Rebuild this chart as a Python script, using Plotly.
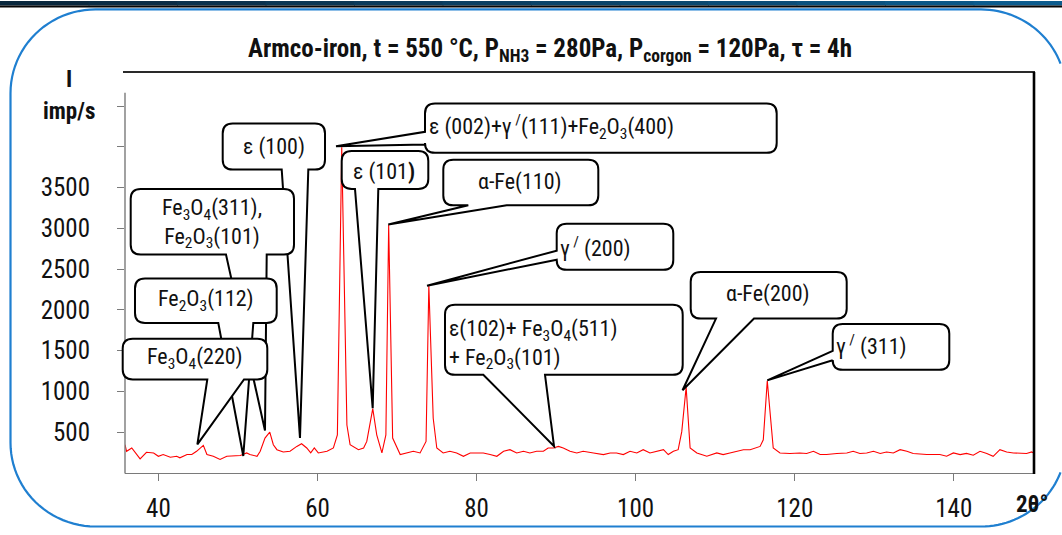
import math
import plotly.graph_objects as go

# ---------------- data ----------------
two_theta = [35.8, 36.0, 36.65, 37.7, 38.5, 39.4, 40.0, 40.6, 41.5, 42.3, 42.7, 43.6, 44.2, 44.8, 45.65, 46.1,
             46.9, 47.75, 48.6, 49.4, 50.3, 51.1, 51.5, 52.4, 52.8, 53.4, 54.0, 54.45, 54.9, 55.7, 56.55, 57.4,
             58.0, 58.65, 59.15, 59.6, 60.1, 61.2, 62.0, 62.5, 63.05, 63.7, 64.1, 65.15, 65.8, 66.2, 66.95,
             67.45, 68.1, 68.6, 68.95, 69.45, 70.4, 72.05, 72.9, 73.65, 74.0, 74.55, 75.0, 75.8, 76.65, 77.5,
             78.35, 79.2, 80.0, 80.85, 81.7, 82.55, 83.4, 84.2, 85.05, 85.9, 86.7, 87.55, 88.4, 89.0, 89.65,
             90.3, 90.9, 91.75, 92.6, 93.4, 94.7, 95.95, 96.8, 97.6, 98.45, 99.3, 100.15, 100.95, 101.8, 103.5,
             104.1, 104.75, 105.35, 105.8, 106.35, 106.85, 107.7, 108.95, 110.2, 111.0, 111.85, 113.55, 114.4,
             115.65, 116.05, 116.55, 117.3, 118.15, 119.4, 120.65, 121.5, 122.35, 123.2, 124.0, 125.3, 126.55,
             127.35, 128.2, 129.05, 129.9, 130.75, 131.55, 132.4, 133.25, 134.1, 134.9, 136.6, 138.25, 139.1,
             139.95, 140.8, 141.6, 142.45, 143.3, 144.15, 144.95, 145.8, 146.65, 147.5, 148.3, 149.15, 149.8,
             150.45]
intensity = [347, 266, 307, 173, 254, 246, 205, 226, 194, 205, 186, 226, 226, 266, 339, 226,
             205, 166, 205, 205, 214, 246, 226, 205, 266, 428, 500, 347, 286, 258, 266, 326,
             359, 307, 246, 307, 246, 266, 307, 468, 3995, 588, 347, 286, 307, 387, 790,
             468, 246, 468, 3045, 428, 226, 266, 246, 387, 2300, 672, 307, 246, 266, 246,
             205, 246, 246, 246, 226, 205, 266, 286, 246, 266, 246, 266, 266, 307, 307,
             326, 307, 266, 246, 266, 246, 226, 246, 246, 226, 266, 246, 286, 246, 286,
             226, 266, 286, 507, 1051, 307, 246, 205, 246, 226, 246, 286, 286,
             326, 407, 1132, 307, 246, 240, 246, 240, 266, 226, 226, 240, 246,
             266, 240, 246, 266, 240, 258, 246, 286, 266, 240, 226, 226, 205,
             246, 226, 240, 218, 266, 240, 205, 286, 258, 246, 240, 240, 258,
             226]

x_ticks = [40, 60, 80, 100, 120, 140]
y_ticks = [500, 1000, 1500, 2000, 2500, 3000, 3500, 4000, 4500]
y_ticktext = ["500", "1000", "1500", "2000", "2500", "3000", "3500", "", ""]

title_text = ("<b>Armco-iron, t = 550 °C, P<sub>NH3</sub> = 280Pa, "
              "P<sub>corgon</sub> = 120Pa, τ = 4h</b>")

# callout labels and the (2θ, I) point each one points to
labels = [
    "ε (100)",
    "Fe<sub>3</sub>O<sub>4</sub>(311),<br>Fe<sub>2</sub>O<sub>3</sub>(101)",
    "Fe<sub>2</sub>O<sub>3</sub>(112)",
    "Fe<sub>3</sub>O<sub>4</sub>(220)",
    "ε (002)+γ<sup> /</sup>(111)+Fe<sub>2</sub>O<sub>3</sub>(400)",
    "ε (101<b>)</b>",
    "α-Fe(110)",
    "γ<sup> /</sup> (200)",
    "ε(102)+ Fe<sub>3</sub>O<sub>4</sub>(511)<br>+ Fe<sub>2</sub>O<sub>3</sub>(101)",
    "α-Fe(200)",
    "γ<sup> /</sup> (311)",
]
label_2theta = [57.8, 53.4, 50.67, 44.9, 62.33, 66.94, 68.9, 73.77, 89.74, 105.9, 116.55]
label_int = [431, 520, 209, 350, 4007, 794, 3048, 2296, 330, 1015, 1136]

# ---------------- geometry (pixels) ----------------
W, H = 1062, 535
L, R, T, B = 125, 1033, 72, 479
PW, PH = R - L, B - T
X0, X1 = 35.8, 149.96
Y0, Y1 = 0, 4917

def PX(px):
    return (px - L) / PW

def PY(py):
    return (B - py) / PH

def data_px(x, y):
    return L + (x - X0) / (X1 - X0) * PW, B - (y - Y0) / (Y1 - Y0) * PH

# box (x0, y0, x1, y1), wedge side, wedge base (a, b), text anchor info
boxes = [
    ((222.7, 124.3, 325, 171), "bottom", (281.7, 308.3), (273.8, 148, "center")),
    ((130.7, 190.7, 294, 257.3), "bottom", (226, 266.7), (212, 226, "center")),
    ((135, 281.7, 276.7, 326.7), "bottom", (218.3, 253.3), (206, 304, "center")),
    ((122.7, 342.7, 267.3, 384), "bottom", (207.3, 244), (195, 363, "center")),
    ((425, 104, 776.7, 154), "left", (132.7, 145.5), (427, 128, "left")),
    ((341.7, 152.3, 428.3, 190.7), "bottom", (355, 378.3), (384, 173, "center")),
    ((443.3, 161, 598.3, 207.3), "bottom", (468.3, 506.7), (520, 184, "center")),
    ((556.7, 226, 673.3, 272.7), "left", (253.3, 262.5), (558, 250, "left")),
    ((445, 308.3, 682.7, 379.3), "bottom", (483.3, 545), (447, 349, "left")),
    ((690.7, 275, 846.7, 322.3), "bottom", (716, 754), (768, 297, "center")),
    ((832.7, 327.7, 949.3, 374.3), "left", (355, 364.5), (834, 350, "left")),
]

def fmt(px, py):
    return f"{PX(px):.5f},{PY(py):.5f}"

def callout_path(box, side, base, tip, r=10):
    x0, y0, x1, y1 = box
    tx, ty = tip
    p = [f"M{fmt(x0 + r, y0)}", f"L{fmt(x1 - r, y0)}", f"Q{fmt(x1, y0)} {fmt(x1, y0 + r)}",
         f"L{fmt(x1, y1 - r)}", f"Q{fmt(x1, y1)} {fmt(x1 - r, y1)}"]
    if side == "bottom":
        a, b = base
        p += [f"L{fmt(b, y1)}", f"L{fmt(tx, ty)}", f"L{fmt(a, y1)}"]
    p += [f"L{fmt(x0 + r, y1)}", f"Q{fmt(x0, y1)} {fmt(x0, y1 - r)}"]
    if side == "left":
        a, b = base
        p += [f"L{fmt(x0, b)}", f"L{fmt(tx, ty)}", f"L{fmt(x0, a)}"]
    p += [f"L{fmt(x0, y0 + r)}", f"Q{fmt(x0, y0)} {fmt(x0 + r, y0)}", "Z"]
    return " ".join(p)

FONT = ("Roboto Condensed, Open Sans Condensed, Liberation Sans Narrow, Arial Narrow, "
        "DejaVu Sans Condensed, sans-serif")

fig = go.Figure()
fig.add_trace(go.Scatter(x=two_theta, y=intensity, mode="lines",
                         line=dict(color="#ff0000", width=1.1), hoverinfo="skip",
                         showlegend=False))

shapes = []
# top bar gradient
n = 12
c0 = (10, 40, 62)
c1 = (12, 92, 142)
for i in range(n):
    t = i / (n - 1)
    col = "rgb(%d,%d,%d)" % tuple(int(c0[k] + (c1[k] - c0[k]) * t) for k in range(3))
    shapes.append(dict(type="rect", xref="paper", yref="paper",
                       x0=PX(i * W / n), x1=PX(min(W, (i + 1) * W / n + 1)), y0=PY(4.5), y1=PY(0),
                       fillcolor=col, line=dict(width=0), layer="above"))
shapes.append(dict(type="rect", xref="paper", yref="paper", x0=PX(0), x1=PX(W), y0=PY(6.5), y1=PY(4.5),
                   fillcolor="#050505", line=dict(width=0), layer="above"))

# blue rounded frame (open path kept inside the page; right edge lies just off-page)
fx0, fy0, fx1, fy1, fr = 10.5, 8.5, 1066, 533.3, 85
cx_r = fx1 - fr
def arc_pts(cx, cy, a0, a1, steps=24):
    return [(cx + fr * math.cos(math.radians(a0 + (a1 - a0) * s / steps)),
             cy + fr * math.sin(math.radians(a0 + (a1 - a0) * s / steps))) for s in range(steps + 1)]
pts = []
lim = W - 1.5
a_tr = math.degrees(math.acos((lim - cx_r) / fr))
pts += arc_pts(cx_r, fy0 + fr, -a_tr, -90)
pts += arc_pts(fx0 + fr, fy0 + fr, -90, -180)
pts += arc_pts(fx0 + fr, fy1 - fr, 180, 90)
pts += arc_pts(cx_r, fy1 - fr, 90, a_tr)
frame = "M" + " L".join(fmt(x, y) for x, y in pts)
shapes.append(dict(type="path", xref="paper", yref="paper", path=frame,
                   line=dict(color="#1f7fd0", width=2.2), layer="above"))

# plot frame lines
shapes.append(dict(type="line", xref="paper", yref="paper", x0=PX(125), x1=PX(125), y0=PY(93), y1=PY(479.5),
                   line=dict(color="#7a7a7a", width=1.4), layer="above"))
shapes.append(dict(type="line", xref="paper", yref="paper", x0=PX(123), x1=PX(1035), y0=PY(72), y1=PY(72),
                   line=dict(color="#2a2a2a", width=2), layer="above"))
shapes.append(dict(type="line", xref="paper", yref="paper", x0=PX(1034), x1=PX(1034), y0=PY(72), y1=PY(480),
                   line=dict(color="#000000", width=2.6), layer="above"))

annotations = []
for lab, tx, ty, (box, side, base, (ax, ay, al)) in zip(labels, label_2theta, label_int, boxes):
    tip = data_px(tx, ty)
    shapes.append(dict(type="path", xref="paper", yref="paper",
                       path=callout_path(box, side, base, tip),
                       fillcolor="white", line=dict(color="black", width=2), layer="above"))
    annotations.append(dict(xref="paper", yref="paper", x=PX(ax), y=PY(ay), text=lab,
                            showarrow=False, xanchor=al, yanchor="middle", align=al,
                            font=dict(family=FONT, size=22, color="#111")))

# title and axis titles
annotations.append(dict(xref="paper", yref="paper", x=PX(550), y=PY(50), text=title_text,
                        showarrow=False, xanchor="center", yanchor="middle",
                        font=dict(family=FONT, size=25, color="#111")))
annotations.append(dict(xref="paper", yref="paper", x=PX(69), y=PY(80), text="<b>I</b>",
                        showarrow=False, xanchor="center", yanchor="middle",
                        font=dict(family=FONT, size=23, color="#111")))
annotations.append(dict(xref="paper", yref="paper", x=PX(69), y=PY(112), text="<b>imp/s</b>",
                        showarrow=False, xanchor="center", yanchor="middle",
                        font=dict(family=FONT, size=23, color="#111")))
annotations.append(dict(xref="paper", yref="paper", x=PX(1032), y=PY(511), text="<b>2θ°</b>",
                        showarrow=False, xanchor="center", yanchor="middle",
                        font=dict(family=FONT, size=23, color="#111")))

fig.update_layout(
    width=W, height=H,
    margin=dict(l=L, r=W - R, t=T, b=H - B, pad=0),
    paper_bgcolor="white", plot_bgcolor="white",
    showlegend=False,
    xaxis=dict(range=[X0, X1], tickvals=x_ticks, ticks="outside", ticklen=7, tickwidth=1.4,
               tickcolor="#7a7a7a", showline=True, linecolor="#7a7a7a", linewidth=1.4,
               showgrid=False, zeroline=False, ticklabelstandoff=6,
               tickfont=dict(family=FONT, size=25, color="#111")),
    yaxis=dict(range=[Y0, Y1], tickvals=y_ticks, ticktext=y_ticktext, ticks="outside", ticklen=7,
               tickwidth=1.4, tickcolor="#7a7a7a", showline=False, showgrid=False, zeroline=False,
               ticklabelstandoff=22, tickfont=dict(family=FONT, size=25, color="#111")),
    shapes=shapes,
    annotations=annotations,
)

fig.write_html(
    "out.html",
    config={"displayModeBar": False},
    post_script=("var de=document.documentElement, bd=document.body;"
                 "de.style.margin='0';de.style.overflow='hidden';"
                 "de.style.width='1062px';de.style.height='535px';"
                 "bd.style.margin='0';bd.style.padding='0';bd.style.overflow='hidden';"
                 "bd.style.width='1062px';bd.style.height='535px';"
                 "document.querySelectorAll('svg').forEach(function(s){s.style.overflow='hidden';});"),
)
